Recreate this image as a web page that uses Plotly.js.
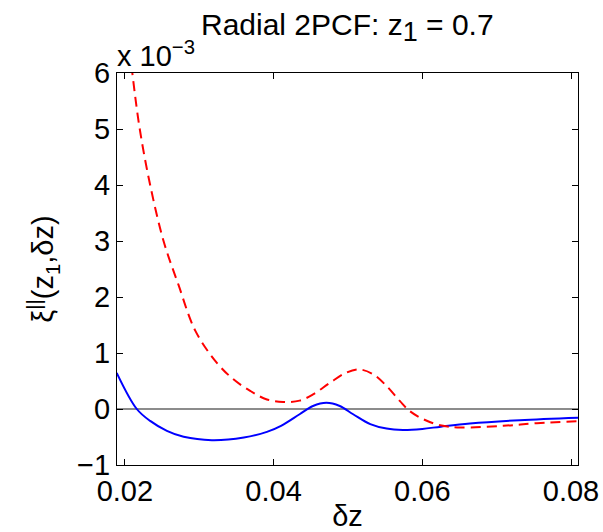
<!DOCTYPE html>
<html>
<head>
<meta charset="utf-8">
<script src="https://cdn.plot.ly/plotly-3.0.1.min.js"></script>
<style>html,body{margin:0;padding:0;background:#fff;}#chart{width:603px;height:532px;}</style>
</head>
<body>
<div id="chart"></div>
<script>
// Blue solid curve (values in units of 1e-3)
const blueX = [0.0189, 0.0216, 0.0234, 0.02565, 0.0279, 0.0317, 0.0360, 0.0391, 0.0410, 0.0435, 0.0453, 0.0471, 0.0489, 0.0507, 0.0530, 0.0552, 0.0574, 0.0600, 0.0625, 0.0664, 0.0731, 0.0810];
const blueY = [0.646, 0.0, -0.213, -0.391, -0.497, -0.556, -0.509, -0.408, -0.30, -0.094, 0.053, 0.11, 0.053, -0.094, -0.27, -0.35, -0.373, -0.355, -0.315, -0.26, -0.20, -0.155];
// Red dashed curve (values in units of 1e-3)
const redX = [0.0189, 0.0200, 0.0210, 0.0220, 0.0234, 0.0252, 0.0272, 0.0295, 0.0324, 0.0346, 0.0369, 0.0391, 0.0413, 0.0435, 0.0453, 0.0476, 0.0498, 0.0516, 0.0534, 0.0552, 0.0570, 0.0583, 0.0601, 0.0624, 0.0651, 0.0709, 0.0754, 0.0810];
const redY = [8.7, 7.2, 6.0, 5.0, 4.0, 3.0, 2.22, 1.39, 0.82, 0.53, 0.32, 0.17, 0.125, 0.15, 0.26, 0.47, 0.65, 0.705, 0.62, 0.41, 0.14, -0.035, -0.18, -0.29, -0.33, -0.30, -0.254, -0.218];
const xTicks = [0.02, 0.04, 0.06, 0.08];
const xTickText = ['0.02', '0.04', '0.06', '0.08'];
const yTicks = [-1, 0, 1, 2, 3, 4, 5, 6];
const yTickText = ['\u22121', '0', '1', '2', '3', '4', '5', '6'];

const FONT = 'Liberation Sans, Arial, Helvetica, sans-serif';

const traces = [
  {x: blueX, y: blueY, type: 'scatter', mode: 'lines',
   line: {color: 'rgb(0,0,255)', width: 2, shape: 'spline', smoothing: 1}, hoverinfo: 'skip'},
  {x: redX, y: redY, type: 'scatter', mode: 'lines',
   line: {color: 'rgb(255,0,0)', width: 2, dash: '10px,6px', shape: 'spline', smoothing: 1}, hoverinfo: 'skip'}
];

const axisCommon = {
  showgrid: false, showline: true, linecolor: '#000', linewidth: 1, mirror: 'ticks',
  ticks: 'inside', ticklen: 6, tickcolor: '#000', tickwidth: 1,
  tickfont: {family: FONT, size: 29, color: '#000'}
};

const layout = {
  width: 603, height: 532,
  margin: {l: 117, r: 25, t: 73, b: 67},
  paper_bgcolor: '#fff', plot_bgcolor: '#fff',
  showlegend: false,
  font: {family: FONT, color: '#000'},
  title: {text: 'Radial 2PCF: z<sub><span style="font-size:27px">1</span></sub> = 0.7', font: {family: FONT, size: 30, color: '#000'},
          x: 0.576, xanchor: 'center', xref: 'container', y: 1 - 24/532, yanchor: 'middle', yref: 'container'},
  xaxis: Object.assign({}, axisCommon, {
    range: [0.01894, 0.08094], tickvals: xTicks, ticktext: xTickText, zeroline: false,
    title: {text: '\u03b4z', font: {family: FONT, size: 29, color: '#000'}, standoff: 4}
  }),
  yaxis: Object.assign({}, axisCommon, {
    range: [-1, 6], tickvals: yTicks, ticktext: yTickText,
    zeroline: true, zerolinecolor: '#8c8c8c', zerolinewidth: 2,
    title: {text: '\u03be<sup>||</sup>(z<sub>1</sub>,\u03b4z)', font: {family: FONT, size: 29, color: '#000'}, standoff: 14}
  }),
  annotations: [
    {text: 'x 10<sup>\u22123</sup>', xref: 'paper', yref: 'paper', x: 0, y: 1, xanchor: 'left', yanchor: 'bottom',
     showarrow: false, font: {family: FONT, size: 29, color: '#000'}, xshift: -2, yshift: -1}
  ]
};

Plotly.newPlot('chart', traces, layout, {displayModeBar: false, staticPlot: true});
</script>
</body>
</html>
